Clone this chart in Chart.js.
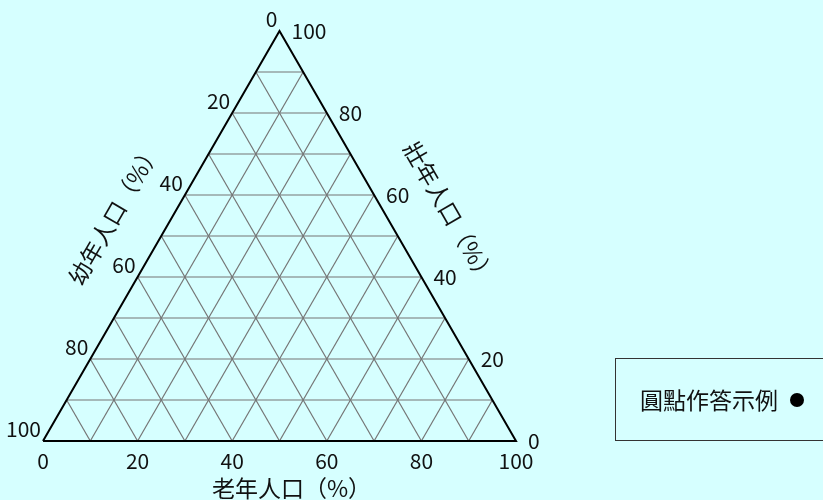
<!DOCTYPE html>
<html><head><meta charset="utf-8">
<script src="https://cdn.jsdelivr.net/npm/chart.js@4/dist/chart.umd.min.js"></script>
<style>html,body{margin:0;padding:0;background:#d6ffff;overflow:hidden}#wrap{width:823px;height:500px;position:relative}</style>
</head><body><div id="wrap"><canvas id="c" width="823" height="500"></canvas></div>
<script>
// ---- data ----
const tickLabels = [0, 20, 40, 60, 80, 100];
const gridSteps = [10, 20, 30, 40, 50, 60, 70, 80, 90];
const bottomTitle = '老年人口（%）';
const leftTitle = '幼年人口（%）';
const rightTitle = '壯年人口（%）';
const legendText = '圓點作答示例';

const S = Math.sqrt(3) / 2;
// ternary (elder %, adult %) -> cartesian
function tern(elder, adult) { return { x: elder + adult / 2, y: adult * S }; }

const FONT = "'Noto Sans CJK TC', 'Noto Sans', sans-serif";

const datasets = [];
// outer triangle
datasets.push({
  data: [tern(0, 0), tern(100, 0), tern(0, 100), tern(0, 0)],
  showLine: true, borderColor: '#000', borderWidth: 2, pointRadius: 0, clip: false,
  borderJoinStyle: 'miter', tension: 0
});
gridSteps.forEach(v => {
  // constant adult (horizontal)
  datasets.push({ data: [tern(0, v), tern(100 - v, v)] });
  // constant elder
  datasets.push({ data: [tern(v, 0), tern(v, 100 - v)] });
  // constant young
  datasets.push({ data: [tern(100 - v, 0), tern(0, 100 - v)] });
});
for (let i = 1; i < datasets.length; i++) {
  Object.assign(datasets[i], { showLine: true, borderColor: '#757575', borderWidth: 1.2, pointRadius: 0, clip: false });
}

const bgPlugin = {
  id: 'bg',
  beforeDraw(chart) {
    const ctx = chart.ctx;
    ctx.save();
    ctx.fillStyle = '#d6ffff';
    ctx.fillRect(0, 0, chart.width, chart.height);
    ctx.restore();
  }
};

const textPlugin = {
  id: 'ternText',
  afterDraw(chart) {
    const ctx = chart.ctx, xs = chart.scales.x, ys = chart.scales.y;
    const px = p => ({ x: xs.getPixelForValue(p.x), y: ys.getPixelForValue(p.y) });
    ctx.save();
    ctx.fillStyle = '#111';
    ctx.font = '21px ' + FONT;
    ctx.textBaseline = 'middle';
    tickLabels.forEach(v => {
      // bottom axis: elder
      let p = px(tern(v, 0));
      ctx.textAlign = 'center';
      ctx.fillText(String(v), p.x, p.y + 20);
      // left axis: young (0 at top)
      p = px(tern(0, 100 - v));
      ctx.textAlign = 'right';
      ctx.fillText(String(v), p.x - 2, p.y - 12);
      // right axis: adult
      p = px(tern(100 - v, v));
      ctx.textAlign = 'left';
      ctx.fillText(String(v), p.x + 12, p.y);
    });
    ctx.font = '23px ' + FONT;
    ctx.textAlign = 'center';
    let p = px(tern(50, 0));
    ctx.fillText(bottomTitle, p.x + 12, p.y + 47);
    // left title
    p = px(tern(0, 50));
    ctx.save();
    ctx.translate(p.x - 47, p.y - 22);
    ctx.rotate(-Math.PI / 3);
    ctx.fillText(leftTitle, 0, 0);
    ctx.restore();
    // right title
    p = px(tern(50, 50));
    ctx.save();
    ctx.translate(p.x + 52, p.y - 23);
    ctx.rotate(Math.PI / 3);
    ctx.fillText(rightTitle, 0, 0);
    ctx.restore();
    // legend box
    ctx.strokeStyle = '#333';
    ctx.lineWidth = 1;
    ctx.strokeRect(615.5, 358.5, 240, 82);
    ctx.textAlign = 'left';
    ctx.fillStyle = '#111';
    ctx.fillText(legendText, 640, 400);
    ctx.beginPath();
    ctx.arc(797, 400, 7, 0, Math.PI * 2);
    ctx.fillStyle = '#000';
    ctx.fill();
    ctx.restore();
  }
};

new Chart(document.getElementById('c'), {
  type: 'scatter',
  data: { datasets },
  options: {
    responsive: false,
    animation: false,
    events: [],
    layout: { padding: { left: 43, right: 307, top: 31, bottom: 59 } },
    plugins: { legend: { display: false }, tooltip: { enabled: false } },
    scales: {
      x: { type: 'linear', min: 0, max: 100, display: false },
      y: { type: 'linear', min: 0, max: 100 * S, display: false }
    }
  },
  plugins: [bgPlugin, textPlugin]
});
</script>
</body></html>
